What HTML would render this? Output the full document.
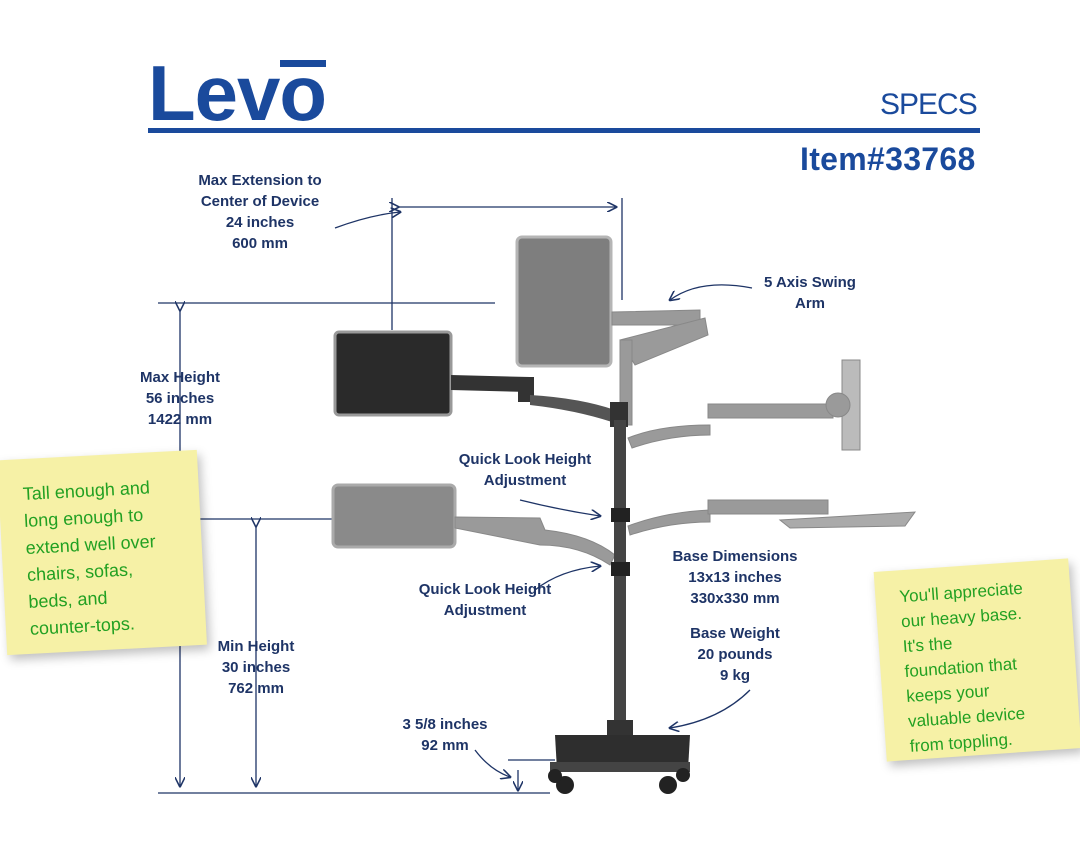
<!DOCTYPE html>
<html><head><meta charset="utf-8"><style>
body{margin:0;width:1080px;height:864px;background:#fff;position:relative;overflow:hidden;font-family:"Liberation Sans",sans-serif}
.t{position:absolute;color:#1e3466;font-weight:bold;font-size:15px;text-align:center;line-height:21px}
.note{position:absolute;background:#f6f1a6;color:#22a022;font-family:"Liberation Sans",sans-serif;font-size:18px;line-height:27px;box-shadow:3px 5px 10px rgba(0,0,0,.25);padding:22px 14px 10px 24px;box-sizing:border-box;white-space:nowrap}
</style></head><body>
<div style="position:absolute;left:148px;top:55px;font-size:78px;font-weight:bold;color:#1a4a9c;letter-spacing:-1px;line-height:76px">Levo</div>
<div style="position:absolute;left:280px;top:60px;width:46px;height:7px;background:#1a4a9c"></div>
<div style="position:absolute;left:880px;top:88px;font-size:30px;color:#1a4a9c;letter-spacing:-1px">SPECS</div>
<div style="position:absolute;left:148px;top:128px;width:832px;height:5px;background:#1a4a9c"></div>
<div style="position:absolute;left:800px;top:141px;font-size:32px;font-weight:bold;color:#1a4a9c;letter-spacing:0.3px">Item#33768</div>

<svg width="1080" height="864" style="position:absolute;left:0;top:0">
<defs><marker id="a" markerWidth="8" markerHeight="8" refX="7" refY="4" orient="auto"><path d="M0,0 L8,4 L0,8" fill="none" stroke="#1e3466" stroke-width="1.2"/></marker></defs>
<g stroke="#1e3466" stroke-width="1.3" fill="none">
<line x1="158" y1="303" x2="495" y2="303"/>
<line x1="190" y1="519" x2="335" y2="519"/>
<line x1="158" y1="793" x2="550" y2="793"/>
<line x1="180" y1="310" x2="180" y2="786" marker-start="url(#a)" marker-end="url(#a)"/>
<line x1="256" y1="526" x2="256" y2="786" marker-start="url(#a)" marker-end="url(#a)"/>
<line x1="392" y1="198" x2="392" y2="330"/>
<line x1="622" y1="198" x2="622" y2="300"/>
<line x1="398" y1="207" x2="616" y2="207" marker-start="url(#a)" marker-end="url(#a)"/>
<line x1="508" y1="760" x2="555" y2="760"/>
<line x1="518" y1="770" x2="518" y2="790" marker-end="url(#a)"/>
<path d="M335,228 Q370,215 400,212" marker-end="url(#a)"/>
<path d="M752,288 Q700,278 670,300" marker-end="url(#a)"/>
<path d="M520,500 Q560,510 600,516" marker-end="url(#a)"/>
<path d="M535,590 Q560,570 600,566" marker-end="url(#a)"/>
<path d="M750,690 Q720,720 670,728" marker-end="url(#a)"/>
<path d="M475,750 Q490,770 510,777" marker-end="url(#a)"/>
</g>
<g fill="#9a9a9a" stroke="#888" stroke-width="1">
<rect x="517" y="237" width="94" height="129" rx="5" fill="#7e7e7e" stroke="#b5b5b5" stroke-width="3"/>
<path d="M612,312 L700,310 L700,325 L612,325Z"/><path d="M620,340 L705,318 L708,335 L635,365Z"/>
<rect x="620" y="340" width="12" height="85"/>
<path d="M628,438 Q660,425 710,425 L710,435 Q670,435 632,448Z"/><rect x="708" y="404" width="125" height="14"/>
<rect x="842" y="360" width="18" height="90" fill="#bbb"/><circle cx="838" cy="405" r="12"/>
<path d="M628,526 Q665,512 710,510 L710,522 Q670,522 630,535Z"/><rect x="708" y="500" width="120" height="14"/>
<path d="M780,520 L915,512 L905,526 L790,528Z" fill="#aaa"/>
<rect x="333" y="485" width="122" height="62" rx="5" fill="#8a8a8a" stroke="#aaa" stroke-width="3"/>
<path d="M455,517 L540,518 L545,530 Q590,535 615,555 L610,565 Q580,545 540,545 L455,528Z"/>
</g>
<g fill="#333">
<rect x="335" y="332" width="116" height="83" rx="4" fill="#2a2a2a" stroke="#999" stroke-width="3"/>
<path d="M451,375 L530,377 L530,392 L451,390Z"/><rect x="518" y="377" width="16" height="25"/>
<path d="M530,395 Q580,398 615,410 L612,422 Q575,410 530,405Z" fill="#555"/>
<rect x="610" y="402" width="18" height="25"/>
<rect x="614" y="420" width="12" height="320" fill="#444"/>
<rect x="611" y="508" width="19" height="14" fill="#222"/><rect x="611" y="562" width="19" height="14" fill="#222"/>
<rect x="607" y="720" width="26" height="22" fill="#333"/>
<path d="M555,735 L690,735 L688,770 L557,770Z" fill="#2e2e2e"/>
<rect x="550" y="762" width="140" height="10" fill="#444"/>
<circle cx="565" cy="785" r="9" fill="#222"/><circle cx="668" cy="785" r="9" fill="#222"/>
<circle cx="683" cy="775" r="7" fill="#222"/><circle cx="555" cy="776" r="7" fill="#222"/>
</g>
</svg>

<div class="t" style="left:180px;top:170px;width:160px">Max Extension to<br>Center of Device<br>24 inches<br>600 mm</div>
<div class="t" style="left:740px;top:272px;width:140px">5 Axis Swing<br>Arm</div>
<div class="t" style="left:120px;top:367px;width:120px">Max Height<br>56 inches<br>1422 mm</div>
<div class="t" style="left:440px;top:449px;width:170px">Quick Look Height<br>Adjustment</div>
<div class="t" style="left:400px;top:579px;width:170px">Quick Look Height<br>Adjustment</div>
<div class="t" style="left:650px;top:546px;width:170px">Base Dimensions<br>13x13 inches<br>330x330 mm</div>
<div class="t" style="left:650px;top:623px;width:170px">Base Weight<br>20 pounds<br>9 kg</div>
<div class="t" style="left:196px;top:636px;width:120px">Min Height<br>30 inches<br>762 mm</div>
<div class="t" style="left:380px;top:714px;width:130px">3 5/8 inches<br>92 mm</div>

<div class="note" style="left:2px;top:455px;width:200px;height:195px;transform:rotate(-3deg)">Tall enough and<br>long enough to<br>extend well over<br>chairs, sofas,<br>beds, and<br>counter-tops.</div>
<div class="note" style="left:880px;top:565px;width:195px;height:190px;transform:rotate(-4deg);padding-top:14px;font-size:17px;line-height:25px">You'll appreciate<br>our heavy base.<br>It's the<br>foundation that<br>keeps your<br>valuable device<br>from toppling.</div>
</body></html>
